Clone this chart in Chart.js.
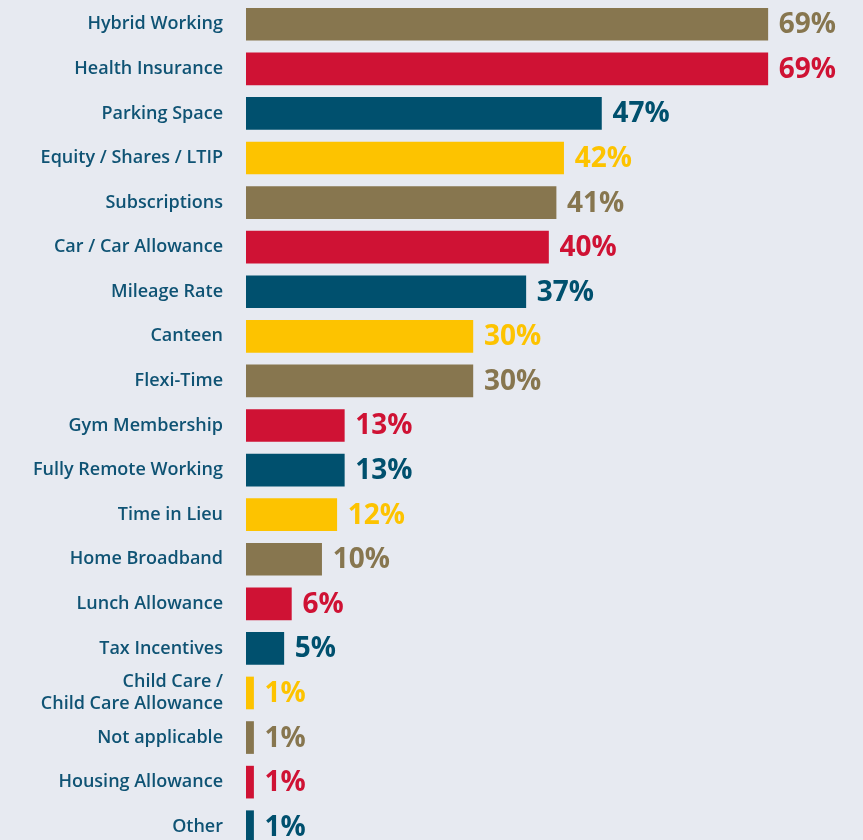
<!DOCTYPE html>
<html>
<head>
<meta charset="utf-8">
<script src="https://cdn.jsdelivr.net/npm/chart.js@4.4.1/dist/chart.umd.min.js"></script>
<style>
  html, body { margin: 0; padding: 0; background: #e7eaf1; overflow: hidden; }
  #wrap { width: 863px; height: 850px; position: relative; }
</style>
</head>
<body>
<div id="wrap"><canvas id="chart"></canvas></div>
<script>
// категорії та значення (у %)
const categories = [
  "Hybrid Working", "Health Insurance", "Parking Space", "Equity / Shares / LTIP",
  "Subscriptions", "Car / Car Allowance", "Mileage Rate", "Canteen", "Flexi-Time",
  "Gym Membership", "Fully Remote Working", "Time in Lieu", "Home Broadband",
  "Lunch Allowance", "Tax Incentives", ["Child Care /", "Child Care Allowance"],
  "Not applicable", "Housing Allowance", "Other"
];
const values = [69, 69, 47, 42, 41, 40, 37, 30, 30, 13, 13, 12, 10, 6, 5, 1, 1, 1, 1];
const palette = ["#87764f", "#cf1234", "#00506e", "#fdc300"];

const barColors = values.map((v, i) => palette[i % palette.length]);

// підписи значень праворуч від стовпчиків
const valueLabels = {
  id: 'valueLabels',
  afterDatasetsDraw(chart) {
    const ctx = chart.ctx;
    const meta = chart.getDatasetMeta(0);
    ctx.save();
    ctx.font = "700 28px 'Open Sans'";
    ctx.textBaseline = 'middle';
    ctx.textAlign = 'left';
    meta.data.forEach((bar, i) => {
      ctx.fillStyle = barColors[i];
      ctx.fillText(values[i] + '%', bar.x + 11, bar.y + 1);
    });
    ctx.restore();
  }
};

const ctx = document.getElementById('chart');
new Chart(ctx, {
  type: 'bar',
  data: {
    labels: categories,
    datasets: [{
      data: values,
      backgroundColor: barColors,
      barThickness: 32,
      borderSkipped: false
    }]
  },
  options: {
    indexAxis: 'y',
    responsive: true,
    maintainAspectRatio: false,
    animation: false,
    layout: { padding: { top: 2, right: 12, bottom: 1, left: 0 } },
    plugins: {
      legend: { display: false },
      tooltip: { enabled: false }
    },
    scales: {
      x: {
        display: false,
        min: 0,
        max: 80
      },
      y: {
        afterFit(scale) {
          scale.width = 246;
          scale.paddingTop = 0;
          scale.paddingBottom = 0;
        },
        grid: { display: false, drawTicks: false },
        border: { display: false },
        ticks: {
          autoSkip: false,
          padding: 23,
          color: '#0f5374',
          font: { family: 'Open Sans', size: 18, weight: '600', lineHeight: 1.2 }
        }
      }
    }
  },
  plugins: [valueLabels]
});
</script>
</body>
</html>
